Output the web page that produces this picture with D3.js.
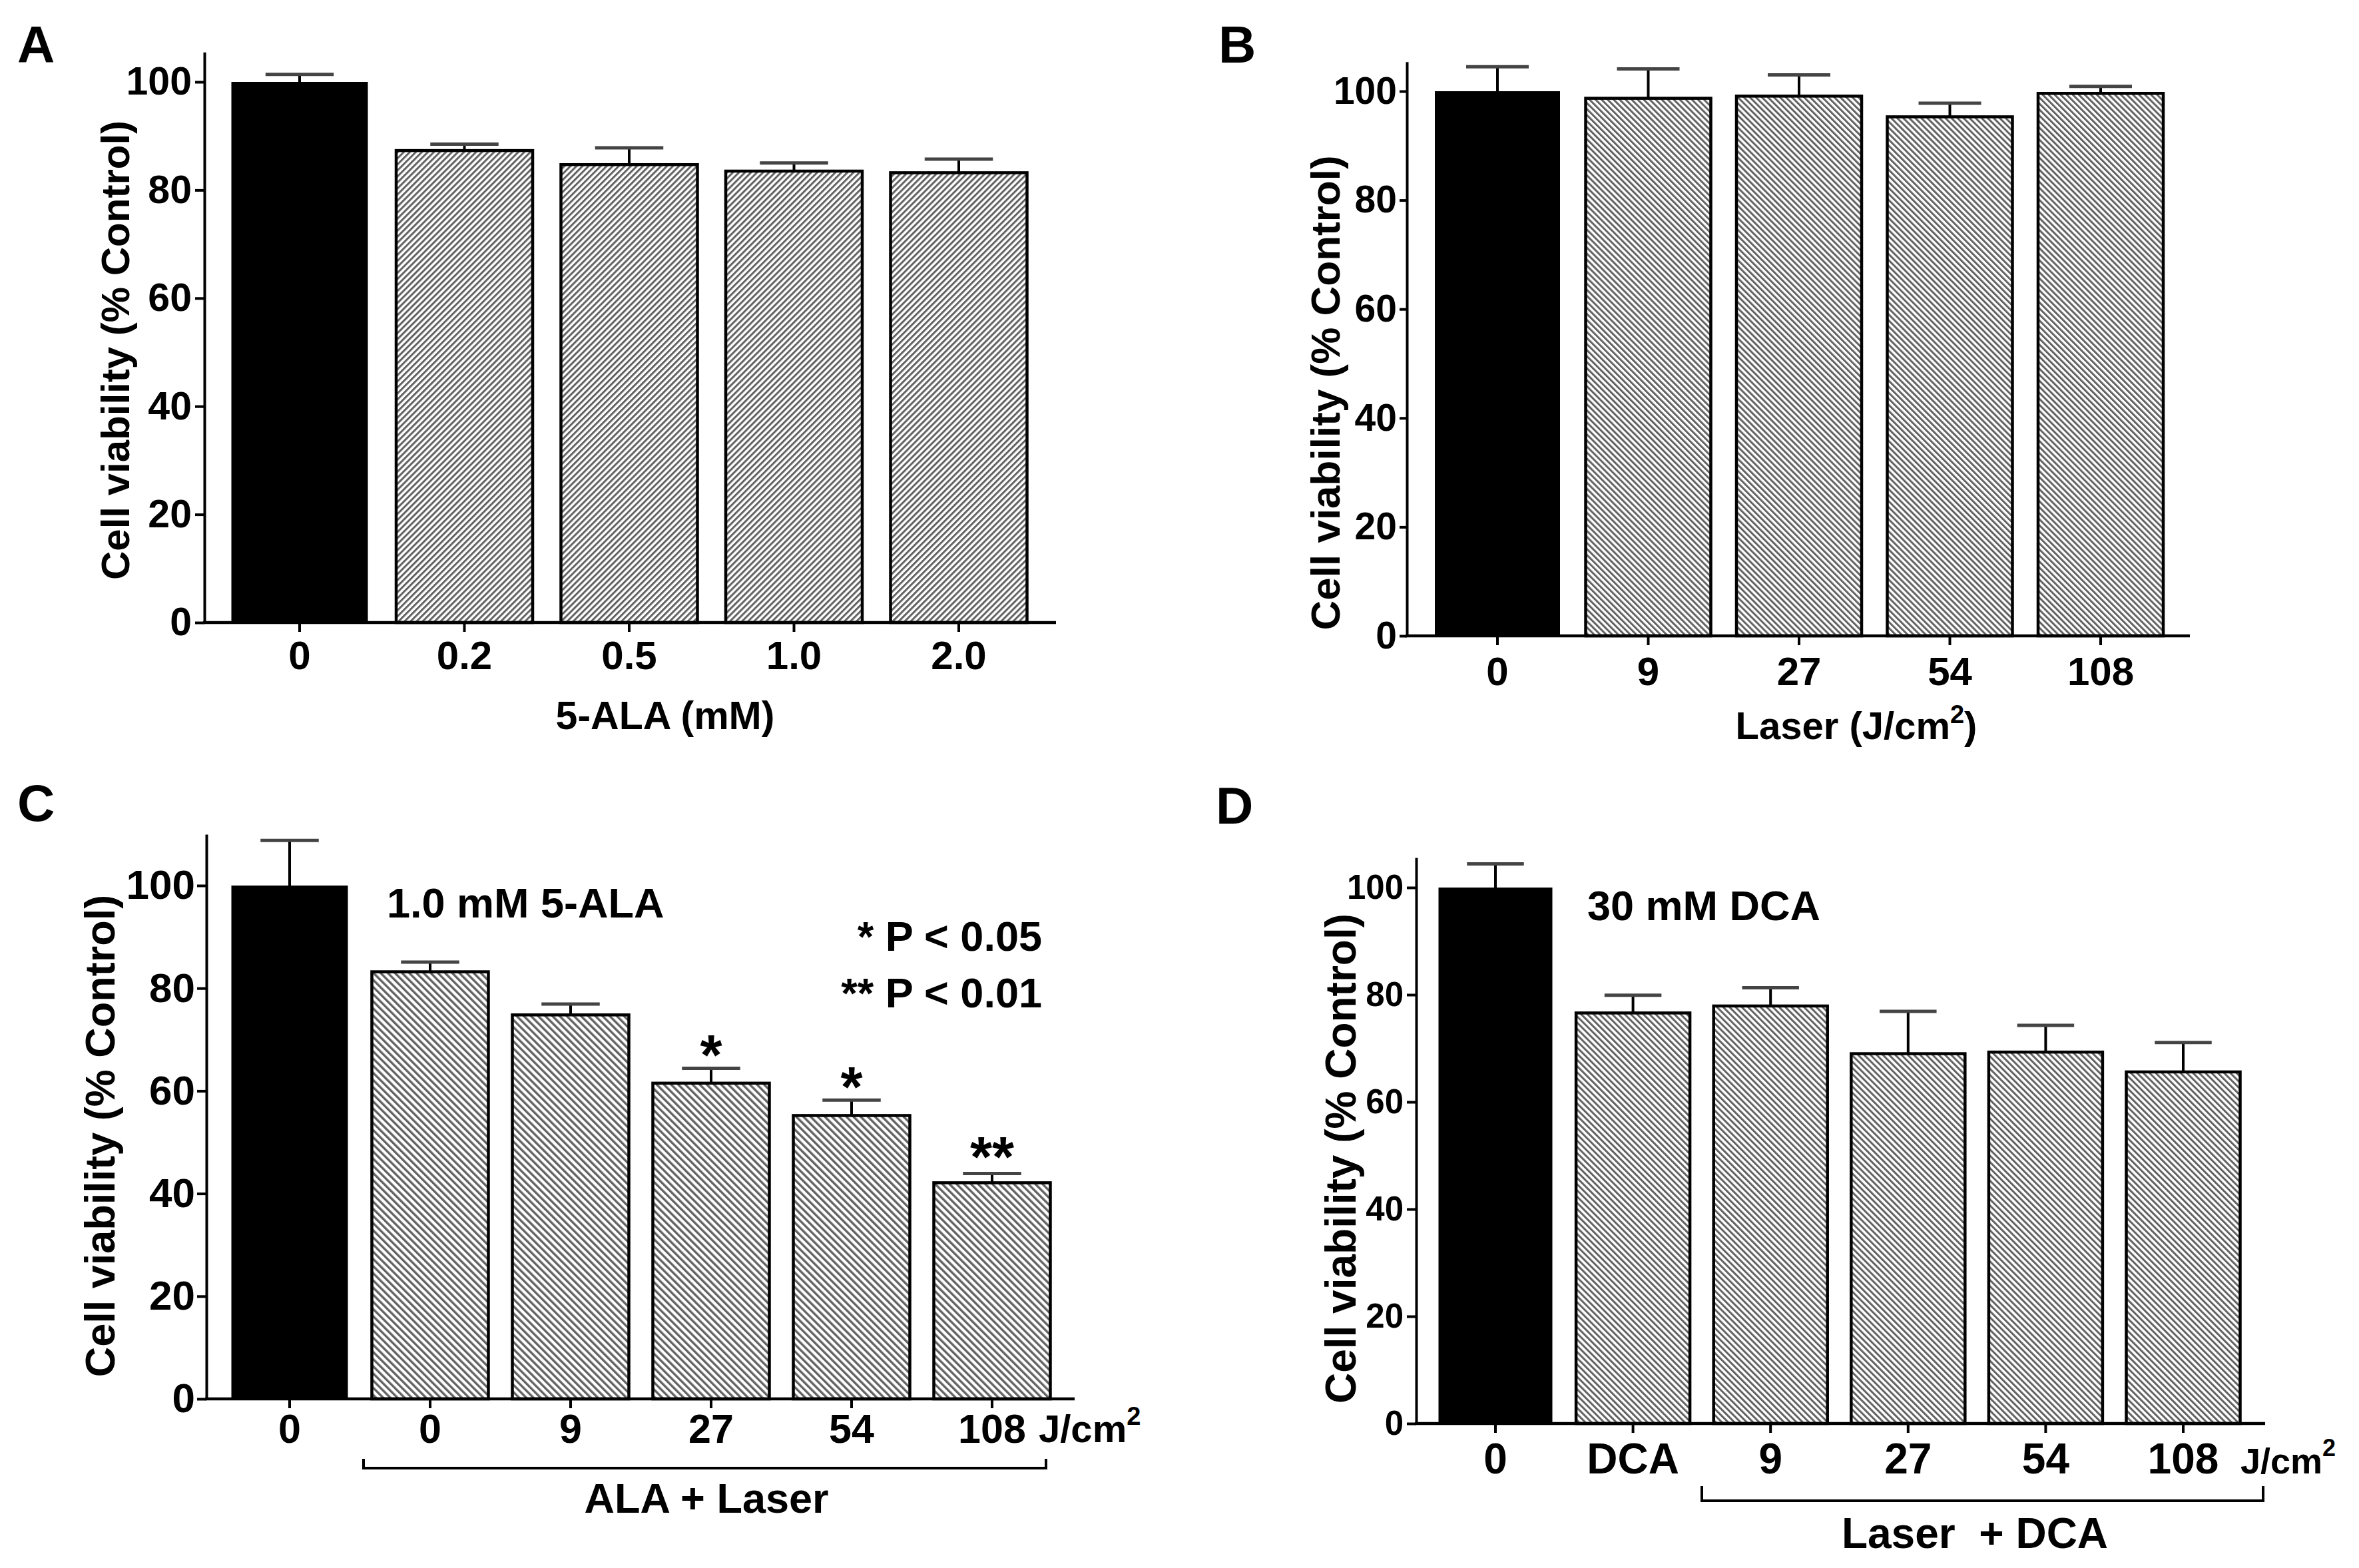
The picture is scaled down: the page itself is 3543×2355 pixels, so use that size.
<!DOCTYPE html>
<html>
<head>
<meta charset="utf-8">
<script src="https://cdn.jsdelivr.net/npm/d3@7"></script>
<style>
  body { margin: 0; background: #fff; }
  text { font-family: "Liberation Sans", Arial, sans-serif; font-weight: bold; fill: #000; }
</style>
</head>
<body>
<script>
// A: 5-ALA dose alone
const alaDose = ["0", "0.2", "0.5", "1.0", "2.0"];
const alaMean = [100, 87.3, 84.7, 83.5, 83.2];
const alaErr  = [1.4, 1.2, 3.1, 1.5, 2.5];

// B: laser alone
const laserDose = ["0", "9", "27", "54", "108"];
const laserMean = [100, 98.7, 99.1, 95.3, 99.6];
const laserErr  = [4.5, 5.4, 3.9, 2.5, 1.3];

// C: 1.0 mM 5-ALA + laser
const pdtDose = ["0", "0", "9", "27", "54", "108"];
const pdtMean = [100, 83.2, 74.8, 61.5, 55.2, 42.1];
const pdtErr  = [8.8, 1.9, 2.1, 2.9, 3.0, 1.8];
const pdtSig  = ["", "", "", "*", "*", "**"];

// D: 30 mM DCA + laser
const dcaDose = ["0", "DCA", "9", "27", "54", "108"];
const dcaMean = [100, 76.6, 77.9, 69.0, 69.3, 65.6];
const dcaErr  = [4.4, 3.3, 3.4, 7.9, 5.0, 5.5];

const yTicks = [0, 20, 40, 60, 80, 100];
const yTitle = "Cell viability (% Control)";

const W = 3543, H = 2355;
const svg = d3.select("body").append("svg")
  .attr("width", W).attr("height", H)
  .attr("viewBox", [0, 0, W, H]);

// hatch fills: A leans "/", the others lean "\"
const defs = svg.append("defs");
function hatch(id, rot, s, lw) {
  const p = defs.append("pattern")
    .attr("id", id)
    .attr("patternUnits", "userSpaceOnUse")
    .attr("width", s).attr("height", s)
    .attr("patternTransform", `rotate(${rot})`);
  p.append("rect").attr("width", s).attr("height", s).attr("fill", "#fff");
  p.append("rect").attr("width", lw).attr("height", s).attr("fill", "#626262");
}
hatch("hatchA", 45, 6.4, 3);
hatch("hatchB", -45, 6.4, 3);
hatch("hatchC", -45, 7.6, 3.4);
hatch("hatchD", -45, 6.6, 3);

const panels = [
  { letter: "A", lx: 26, ly: 94, labels: alaDose, mean: alaMean, err: alaErr, hatch: "hatchA",
    x0: 307, x1: 1586, y0: 935, y100: 123, yMax: 105.5, c0: 450, step: 247.5, bw: 205,
    yFont: 59, tick: 14, yPad: 5, xFont: 60, xPad: 13,
    yt: { x: 194, y: 526, size: 60 } },
  { letter: "B", lx: 1830, ly: 94, labels: laserDose, mean: laserMean, err: laserErr, hatch: "hatchB",
    x0: 2113, x1: 3289, y0: 955, y100: 137, yMax: 105.4, c0: 2249, step: 226.5, bw: 188,
    yFont: 57, tick: 11, yPad: 4, xFont: 60, xPad: 17,
    yt: { x: 2012, y: 590, size: 62 } },
  { letter: "C", lx: 26, ly: 1233, labels: pdtDose, mean: pdtMean, err: pdtErr, hatch: "hatchC",
    x0: 310, x1: 1614, y0: 2101, y100: 1330, yMax: 110, c0: 435, step: 211, bw: 175,
    yFont: 62, tick: 14, yPad: 3, xFont: 61, xPad: 9, sig: pdtSig,
    yt: { x: 172, y: 1706, size: 63 } },
  { letter: "D", lx: 1826, ly: 1237, labels: dcaDose, mean: dcaMean, err: dcaErr, hatch: "hatchD",
    x0: 2127, x1: 3402, y0: 2138, y100: 1333, yMax: 105.6, c0: 2246, step: 206.6, bw: 171,
    yFont: 51, tick: 14, yPad: 5, xFont: 64, xPad: 16,
    yt: { x: 2036, y: 1740, size: 64 } }
];

panels.forEach(p => {
  const n = p.labels.length;
  const g = svg.append("g");

  const pxPerUnit = (p.y0 - p.y100) / 100;
  const y = d3.scaleLinear().domain([0, p.yMax]).range([p.y0, p.y0 - p.yMax * pxPerUnit]);
  const x = d3.scaleBand()
    .domain(d3.range(n))
    .range([p.c0 - p.step / 2, p.c0 - p.step / 2 + n * p.step])
    .paddingInner(1 - p.bw / p.step)
    .paddingOuter((1 - p.bw / p.step) / 2);
  const cx = i => x(i) + x.bandwidth() / 2;

  // bars
  g.selectAll("rect.bar")
    .data(p.mean)
    .join("rect")
    .attr("class", "bar")
    .attr("x", (d, i) => x(i))
    .attr("width", x.bandwidth())
    .attr("y", d => y(d))
    .attr("height", d => y(0) - y(d))
    .attr("fill", (d, i) => i === 0 ? "#000" : `url(#${p.hatch})`)
    .attr("stroke", "#000")
    .attr("stroke-width", (d, i) => i === 0 ? 0 : 4.5);

  // error bars (upper only)
  const eb = g.selectAll("g.err")
    .data(p.mean.map((m, i) => ({ i, m, e: p.err[i] })))
    .join("g").attr("class", "err");
  eb.append("line")
    .attr("x1", d => cx(d.i)).attr("x2", d => cx(d.i))
    .attr("y1", d => y(d.m))
    .attr("y2", d => y(d.m + d.e))
    .attr("stroke", "#000").attr("stroke-width", 4);
  eb.append("line")
    .attr("x1", d => cx(d.i) - x.bandwidth() / 4)
    .attr("x2", d => cx(d.i) + x.bandwidth() / 4)
    .attr("y1", d => y(d.m + d.e))
    .attr("y2", d => y(d.m + d.e))
    .attr("stroke", "#444").attr("stroke-width", 5);

  // significance marks
  if (p.sig) {
    g.selectAll("text.sig")
      .data(p.sig.map((s, i) => ({ s, i })).filter(d => d.s))
      .join("text")
      .attr("class", "sig")
      .attr("x", d => cx(d.i))
      .attr("y", d => y(p.mean[d.i] + p.err[d.i]) + (d.s.length > 1 ? 4 : 10))
      .attr("text-anchor", "middle")
      .attr("font-size", 85)
      .text(d => d.s);
  }

  // y axis
  const ya = g.append("g")
    .attr("transform", `translate(${p.x0},0)`)
    .call(d3.axisLeft(y).tickValues(yTicks).tickSize(p.tick).tickSizeOuter(0).tickPadding(p.yPad));
  ya.select(".domain").attr("stroke-width", 4);
  ya.selectAll(".tick line").attr("stroke-width", 4);
  ya.selectAll(".tick text").attr("font-size", p.yFont).style("font-family", "'Liberation Sans', Arial, sans-serif");

  // x axis
  const xa = g.append("g")
    .attr("transform", `translate(0,${p.y0})`)
    .call(d3.axisBottom(x).tickFormat(i => p.labels[i]).tickSize(14).tickSizeOuter(0).tickPadding(p.xPad));
  xa.select(".domain").remove();
  xa.selectAll(".tick line").attr("stroke-width", 4);
  xa.selectAll(".tick text").attr("font-size", p.xFont).style("font-family", "'Liberation Sans', Arial, sans-serif");
  g.append("line")
    .attr("x1", p.x0 - 2).attr("x2", p.x1)
    .attr("y1", p.y0).attr("y2", p.y0)
    .attr("stroke", "#000").attr("stroke-width", 4.5);

  // y title
  g.append("text")
    .attr("transform", `translate(${p.yt.x},${p.yt.y}) rotate(-90)`)
    .attr("text-anchor", "middle")
    .attr("font-size", p.yt.size)
    .text(yTitle);

  // panel letter
  svg.append("text")
    .attr("x", p.lx).attr("y", p.ly)
    .attr("font-size", 78)
    .text(p.letter);
});

// A x title
svg.append("text").attr("x", 999).attr("y", 1095)
  .attr("text-anchor", "middle").attr("font-size", 59).text("5-ALA (mM)");

// B x title with superscript
const tb = svg.append("text").attr("x", 2788).attr("y", 1110)
  .attr("text-anchor", "middle").attr("font-size", 58);
tb.append("tspan").text("Laser (J/cm");
tb.append("tspan").attr("font-size", 38).attr("dy", -24).text("2");
tb.append("tspan").attr("dy", 24).text(")");

// C annotations
svg.append("text").attr("x", 581).attr("y", 1378).attr("font-size", 63).text("1.0 mM 5-ALA");
svg.append("text").attr("x", 1565).attr("y", 1428).attr("text-anchor", "end").attr("font-size", 63).text("* P < 0.05");
svg.append("text").attr("x", 1565).attr("y", 1513).attr("text-anchor", "end").attr("font-size", 63).text("** P < 0.01");
const tc = svg.append("text").attr("x", 1560).attr("y", 2166).attr("font-size", 58);
tc.append("tspan").text("J/cm");
tc.append("tspan").attr("font-size", 38).attr("dy", -26).text("2");
svg.append("path")
  .attr("d", "M546,2191 V2205 H1571 V2191")
  .attr("fill", "none").attr("stroke", "#000").attr("stroke-width", 4);
svg.append("text").attr("x", 1061).attr("y", 2272)
  .attr("text-anchor", "middle").attr("font-size", 63).text("ALA + Laser");

// D annotations
svg.append("text").attr("x", 2384).attr("y", 1382).attr("font-size", 63).text("30 mM DCA");
const td = svg.append("text").attr("x", 3365).attr("y", 2213).attr("font-size", 54);
td.append("tspan").text("J/cm");
td.append("tspan").attr("font-size", 36).attr("dy", -26).text("2");
svg.append("path")
  .attr("d", "M2556,2232 V2254 H3399 V2232")
  .attr("fill", "none").attr("stroke", "#000").attr("stroke-width", 4);
svg.append("text").attr("x", 2966).attr("y", 2325)
  .attr("text-anchor", "middle").attr("font-size", 64).style("white-space", "pre")
  .text("Laser  + DCA");
</script>
</body>
</html>
